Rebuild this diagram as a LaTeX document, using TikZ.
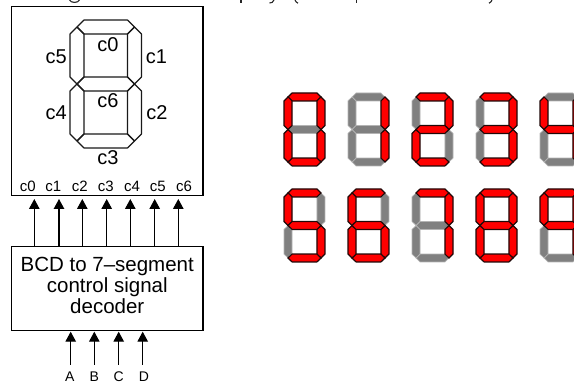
\documentclass[tikz,border=0pt]{standalone}
\usepackage{fontspec}
\setmainfont{Liberation Sans}
\usetikzlibrary{arrows.meta}
\definecolor{seggray}{HTML}{808080}
\definecolor{segedge}{HTML}{B4B4B4}
\definecolor{segred}{HTML}{FF0000}
\definecolor{segdark}{HTML}{200808}
\def\segA{(14,0)--(57.5,0)--(64.5,7)--(57.5,14)--(14,14)--(7,7)--cycle}
\def\segB{(64.5,7)--(71.5,14)--(71.5,57)--(64.5,64)--(57.5,57)--(57.5,14)--cycle}
\def\segC{(64.5,64)--(71.5,71)--(71.5,114)--(64.5,121)--(57.5,114)--(57.5,71)--cycle}
\def\segD{(7,121)--(14,114)--(57.5,114)--(64.5,121)--(57.5,128)--(14,128)--cycle}
\def\segE{(7,64)--(14,71)--(14,114)--(7,121)--(0,114)--(0,71)--cycle}
\def\segF{(7,7)--(14,14)--(14,57)--(7,64)--(0,57)--(0,14)--cycle}
\def\segG{(7,64)--(14,57)--(57.5,57)--(64.5,64)--(57.5,71)--(14,71)--cycle}
\newcommand\segpaint[2]{\foreach \s in {#2}{%
  \expandafter\let\expandafter\curseg\csname seg\s\endcsname
  \path[#1] \curseg;}}
\newcommand\sevendigit[4]{\begin{scope}[shift={(#1,#2)},xscale=.5734,yscale=.5703]
  \segpaint{seg off}{#3}\segpaint{seg on}{#4}\end{scope}}
\tikzset{
  x=1pt,y=-1pt,
  box/.style={draw=black,line width=1.1pt,inner sep=0pt,fill=white},
  seg outline/.style={draw=black!90,line width=1.1pt,line join=round},
  seg off/.style={fill=seggray,draw=segedge,line width=.7pt,line join=miter},
  seg on/.style={fill=segred,draw=segdark,line width=1.1pt,line join=miter},
  big/.style={font=\fontsize{20}{20}\selectfont,anchor=base,inner sep=0pt},
  pinlabel/.style={font=\fontsize{15}{15}\selectfont,anchor=base,inner sep=0pt},
  inlabel/.style={font=\fontsize{14}{14}\selectfont,anchor=base,inner sep=0pt},
  sig/.style={line width=1.2pt,-{Triangle[length=10pt,width=10.5pt]}},
  cut/.style={line width=1.1pt,draw=black!85},
}
\begin{document}
\begin{tikzpicture}
\useasboundingbox[fill=white] (0,0) rectangle (574,385);
% descenders of the cut-off title line
\draw[cut] (69.5,0) .. controls (71,3.2) and (78,3.2) .. (79.5,0);
\draw[cut] (241,0)--(241,3);
\draw[cut] (274,0)..controls (273,2.5) and (271.5,3) .. (269.5,3);
\draw[cut] (295,0)..controls (295.5,1.5) and (296.5,2.5) .. (298,3.2);
\draw[cut] (356.5,0)--(356.5,3);
\draw[cut] (492,0)..controls (491.5,1.5) and (490.5,2.5) .. (489,3.2);
\node[box,minimum width=191.5pt,minimum height=189pt] (display) at (107.25,101.2) {};
\node[box,minimum width=191.5pt,minimum height=84pt] (decoder) at (107.25,288.7) {};
\node[align=center,inner sep=0pt,font=\fontsize{20.5}{21}\selectfont] (decodertext) at (107.25,285.4) {BCD to 7–segment\\control signal\\decoder};
\begin{scope}[shift={(70,20)}]
 \foreach \s in {A,B,C,D,E,F,G}{%
  \expandafter\let\expandafter\curseg\csname seg\s\endcsname
  \path[seg outline] \curseg;}
\end{scope}
\node[big] (lc0) at (108,51.7) {c0};
\node[big] (lc1) at (156.5,64) {c1};
\node[big] (lc5) at (56.3,64) {c5};
\node[big] (lc6) at (108,107.3) {c6};
\node[big] (lc2) at (157,120) {c2};
\node[big] (lc4) at (56.3,120) {c4};
\node[big] (lc3) at (108,165) {c3};
\node[pinlabel] (p0) at (27.8,191.3) {c0};
\node[pinlabel] (p1) at (53.3,191.3) {c1};
\node[pinlabel] (p2) at (79.8,191.3) {c2};
\node[pinlabel] (p3) at (105.8,191.3) {c3};
\node[pinlabel] (p4) at (132,191.3) {c4};
\node[pinlabel] (p5) at (157.8,191.3) {c5};
\node[pinlabel] (p6) at (184,191.3) {c6};
\foreach \i/\x in {0/34.3,1/59,2/82.3,3/106.7,4/130.3,5/154.7,6/178.3}{
  \coordinate (o\i) at (\x,199);
  \draw[sig] (decoder.north -| o\i) -- (o\i);
}
\node[inlabel] (A) at (69.7,381.3) {A};
\node[inlabel] (B) at (94.3,381.3) {B};
\node[inlabel] (C) at (118.7,381.3) {C};
\node[inlabel] (D) at (144,381.3) {D};
\foreach \n/\x in {A/70.7,B/94.3,C/118.7,D/142.7}{
  \coordinate (s\n) at (\x,365);
  \draw[sig] (s\n) -- (\x,331.7);
}
\sevendigit{284}{93}{G}{A,B,C,D,E,F}
\sevendigit{348}{93}{A,D,E,F,G}{B,C}
\sevendigit{412}{93}{C,F}{A,B,D,E,G}
\sevendigit{476}{93}{E,F}{A,B,C,D,G}
\sevendigit{540}{93}{A,D,E}{B,C,F,G}
\sevendigit{284}{189}{B,E}{A,C,D,F,G}
\sevendigit{348}{189}{B}{A,C,D,E,F,G}
\sevendigit{412}{189}{D,E,F,G}{A,B,C}
\sevendigit{476}{189}{}{A,B,C,D,E,F,G}
\sevendigit{540}{189}{D,E}{A,B,C,F,G}
\end{tikzpicture}
\end{document}
